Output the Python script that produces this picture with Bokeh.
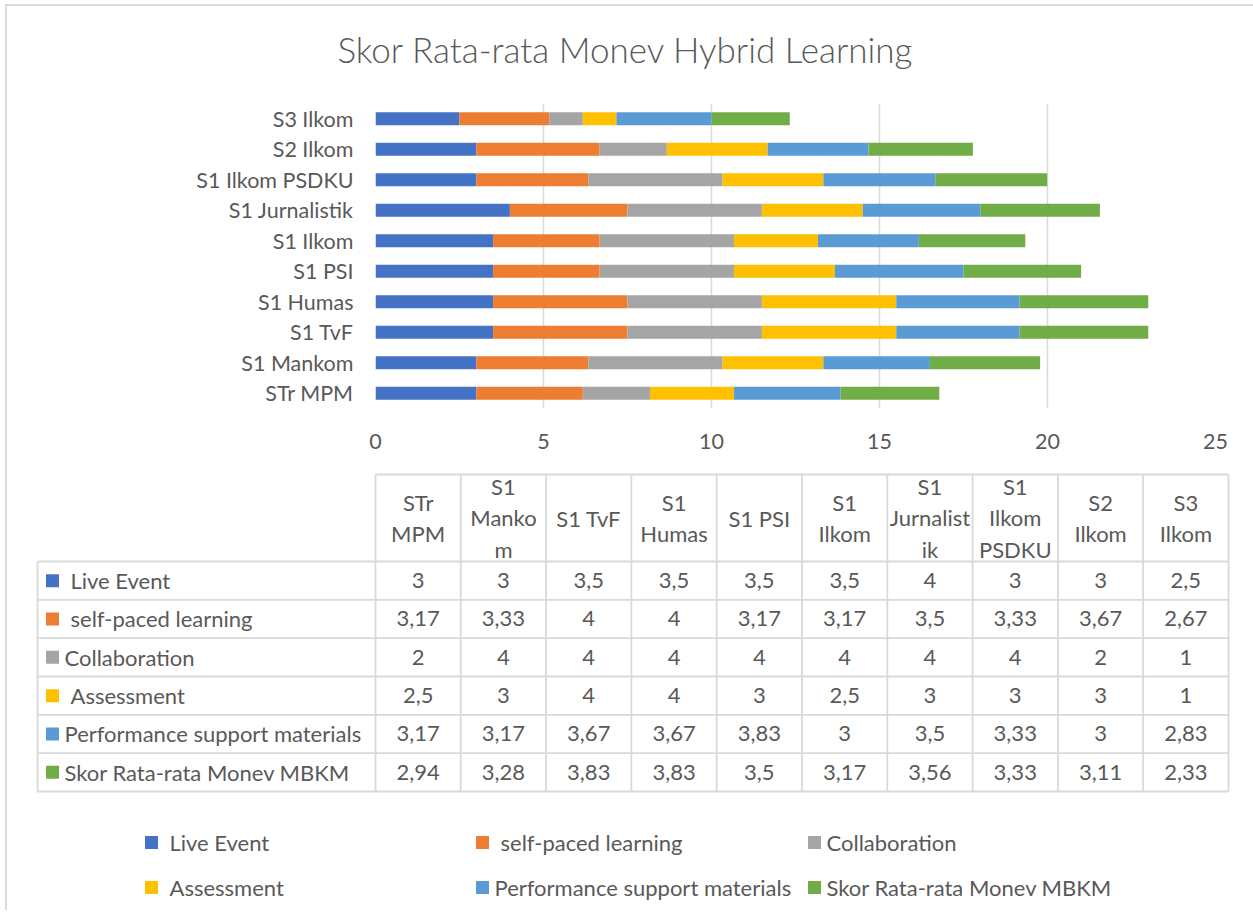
from bokeh.plotting import figure
from bokeh.models import ColumnDataSource, Range1d, FactorRange, FixedTicker
from bokeh.layouts import column
from bokeh.embed import file_html
from bokeh.resources import INLINE
from bokeh.core.properties import value

# ---------------- data ----------------
categories = ["STr MPM", "S1 Mankom", "S1 TvF", "S1 Humas", "S1 PSI", "S1 Ilkom",
              "S1 Jurnalistik", "S1 Ilkom PSDKU", "S2 Ilkom", "S3 Ilkom"]
header_labels = ["STr\nMPM", "S1\nManko\nm", "S1 TvF", "S1\nHumas", "S1 PSI", "S1\nIlkom",
                 "S1\nJurnalist\nik", "S1\nIlkom\nPSDKU", "S2\nIlkom", "S3\nIlkom"]
series = [" Live Event", " self-paced learning", "Collaboration", " Assessment",
          "Performance support materials", "Skor Rata-rata Monev MBKM"]
live_event = [3, 3, 3.5, 3.5, 3.5, 3.5, 4, 3, 3, 2.5]
self_paced = [3.17, 3.33, 4, 4, 3.17, 3.17, 3.5, 3.33, 3.67, 2.67]
collaboration = [2, 4, 4, 4, 4, 4, 4, 4, 2, 1]
assessment = [2.5, 3, 4, 4, 3, 2.5, 3, 3, 3, 1]
performance = [3.17, 3.17, 3.67, 3.67, 3.83, 3, 3.5, 3.33, 3, 2.83]
skor_mbkm = [2.94, 3.28, 3.83, 3.83, 3.5, 3.17, 3.56, 3.33, 3.11, 2.33]
x_ticks = [0, 5, 10, 15, 20, 25]
title_text = "Skor Rata-rata  Monev Hybrid Learning"

values = [live_event, self_paced, collaboration, assessment, performance, skor_mbkm]
colors = ["#4472C4", "#ED7D31", "#A5A5A5", "#FFC000", "#5B9BD5", "#70AD47"]

FONT_NAME = "Lato"
FONT = value(FONT_NAME)
TXT = "#595959"
GRID = "#d9d9d9"
FS = "21.5px"      # axis labels
FS_T = "22px"      # table / legend text

# page geometry (content origin after margin + border)
OX, OY = 7, 6
W = 1253 - OX

# ---------------- title ----------------
HT_FIG = 87
pt = figure(width=W, height=HT_FIG, output_backend="svg", toolbar_location=None,
            frame_align=False, x_range=Range1d(OX, OX + W), y_range=Range1d(OY + HT_FIG, OY),
            x_axis_location=None, y_axis_location=None, min_border=0)
pt.outline_line_color = None
pt.grid.visible = False
pt.text(x=[630], y=[48], text=[title_text], text_font=value("Lato Light"),
        text_font_size="35px", text_color=TXT, text_align="center", text_baseline="middle")

# ---------------- bar chart ----------------
FR_L, FR_R, FR_T, FR_B = 375, 1215, 103, 408
TOP_A = OY + HT_FIG
HA = 463 - TOP_A
keys = [f"s{i}" for i in range(len(series))]
bar_data = {"cat": categories}
for k, v in zip(keys, values):
    bar_data[k] = v
bar_src = ColumnDataSource(bar_data)

pa = figure(width=W, height=HA, y_range=FactorRange(*categories), x_range=Range1d(0, 25),
            output_backend="svg", toolbar_location=None, frame_align=False,
            min_border_left=FR_L - OX, min_border_right=OX + W - FR_R,
            min_border_top=FR_T - TOP_A, min_border_bottom=TOP_A + HA - FR_B)
pa.hbar_stack(keys, y="cat", height=0.43, color=colors, source=bar_src, line_color=None)
pa.outline_line_color = None
pa.xaxis.ticker = FixedTicker(ticks=x_ticks)
for ax in (pa.xaxis[0], pa.yaxis[0]):
    ax.axis_line_color = None
    ax.major_tick_line_color = None
    ax.minor_tick_line_color = None
    ax.major_label_text_font = FONT_NAME
    ax.major_label_text_font_size = FS
    ax.major_label_text_color = TXT
pa.xaxis.major_label_standoff = 19
pa.yaxis.major_label_standoff = 16
pa.ygrid.grid_line_color = None
pa.xgrid.grid_line_color = GRID
pa.xgrid.grid_line_width = 1.5

# ---------------- data table ----------------
TB = TOP_A + HA          # page y of table figure top
HB_H = 337
COLW = 85.3              # px per data column
RH = 38.33               # px per data row
X0 = 375                 # page x of first data column
HL = 37                  # page x of row-header column left edge
Y0 = 561                 # page y of first data row
HT = 474                 # page y of header top
ncol = len(categories)
nrow = len(series)
RHW = (X0 - HL) / COLW
HH = (Y0 - HT) / RH

pb = figure(width=W, height=HB_H, output_backend="svg", toolbar_location=None,
            frame_align=False,
            x_range=Range1d((OX - X0) / COLW, (OX + W - X0) / COLW),
            y_range=Range1d((TB + HB_H - Y0) / RH, (TB - Y0) / RH),
            x_axis_location=None, y_axis_location=None, min_border=0)
pb.outline_line_color = None
pb.grid.visible = False

# grid lines
x0s, y0s, x1s, y1s = [], [], [], []
x0s.append(0); x1s.append(ncol); y0s.append(-HH); y1s.append(-HH)
for r in range(nrow + 1):
    x0s.append(-RHW); x1s.append(ncol); y0s.append(r); y1s.append(r)
x0s.append(-RHW); x1s.append(-RHW); y0s.append(0); y1s.append(nrow)
for c in range(ncol + 1):
    x0s.append(c); x1s.append(c); y0s.append(-HH); y1s.append(nrow)
pb.segment(x0=x0s, y0=y0s, x1=x1s, y1=y1s, line_color=GRID, line_width=1.8)

# header labels
pb.text(x=[i + 0.5 for i in range(ncol)], y=[-HH / 2] * ncol, text=header_labels,
        text_font=FONT, text_font_size=FS_T, text_color=TXT, text_align="center",
        text_baseline="middle", text_line_height=1.16)

# cell values
def fmt(v):
    return f"{v:g}".replace(".", ",")

cx, cy, ct = [], [], []
for r, vals in enumerate(values):
    for c, v in enumerate(vals):
        cx.append(c + 0.5); cy.append(r + 0.5); ct.append(fmt(v))
pb.text(x=cx, y=cy, text=ct, text_font=FONT, text_font_size=FS_T, text_color=TXT,
        text_align="center", text_baseline="middle")

# row headers
mk_x = (52 - X0) / COLW
pb.scatter(x=[mk_x] * nrow, y=[r + 0.5 for r in range(nrow)], marker="square", size=13,
           color=colors, line_color=None)
txt_x = (64 - X0) / COLW
pb.text(x=[txt_x] * nrow, y=[r + 0.5 for r in range(nrow)], text=[s.strip() for s in series],
        x_offset=[6 if s.startswith(" ") else 0 for s in series],
        text_font=FONT, text_font_size=FS_T, text_color=TXT, text_align="left",
        text_baseline="middle")

# ---------------- legend ----------------
LB = TB + HB_H
HC = 110
pc = figure(width=W, height=HC, output_backend="svg", toolbar_location=None,
            frame_align=False,
            x_range=Range1d(OX, OX + W), y_range=Range1d(LB + HC, LB),
            x_axis_location=None, y_axis_location=None, min_border=0)
pc.outline_line_color = None
pc.grid.visible = False
LEG_COL_X = [151, 482, 814]
LEG_ROW_Y = [842, 887]
lx = [LEG_COL_X[i % 3] for i in range(nrow)]
ly = [LEG_ROW_Y[i // 3] for i in range(nrow)]
pc.scatter(x=lx, y=ly, marker="square", size=13, color=colors, line_color=None)
pc.text(x=[x + 12 for x in lx], y=ly, text=[s.strip() for s in series],
        x_offset=[6 if s.startswith(" ") else 0 for s in series],
        text_font=FONT, text_font_size=FS_T, text_color=TXT, text_align="left",
        text_baseline="middle")

layout = column(pt, pa, pb, pc, spacing=0,
                styles={"margin-left": "5px", "margin-top": "4px",
                        "border-top": "2px solid #d9d9d9", "border-left": "2px solid #d9d9d9"})

open("out.html", "w").write(file_html(layout, INLINE))
